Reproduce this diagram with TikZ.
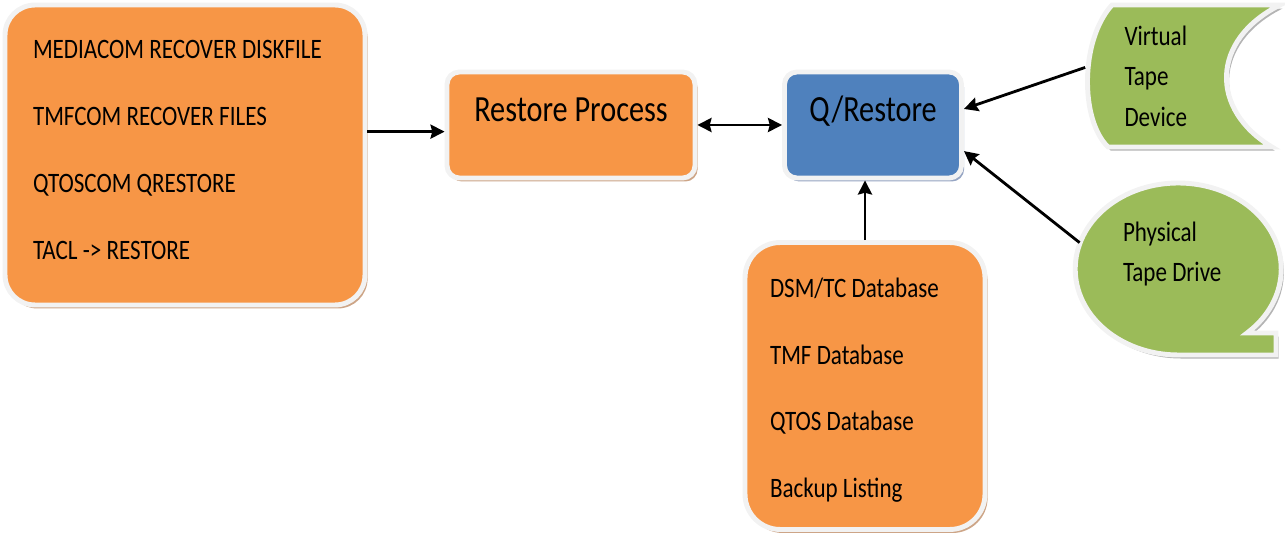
\documentclass[tikz,border=0pt]{standalone}
\usepackage{fontspec}
\setmainfont{Carlito}[FakeStretch=0.82]
\usepackage{tikz}
\usetikzlibrary{positioning, arrows.meta, shapes.geometric, shadows, calc}
\definecolor{cmdorange}{RGB}{247,150,70}
\definecolor{qblue}{RGB}{79,129,189}
\definecolor{tapegreen}{RGB}{155,187,89}
\definecolor{rimgray}{RGB}{242,242,242}
\definecolor{orangeshade}{RGB}{205,165,135}
\definecolor{blueshade}{RGB}{150,165,195}
\definecolor{greenshade}{RGB}{180,180,180}

\begin{document}
\begin{tikzpicture}[x=0.02cm, y=-0.02cm,
    box/.style={rectangle, draw=rimgray, line width=2.8pt},
    orangebox/.style={box, fill=cmdorange, drop shadow={opacity=1, fill=orangeshade, shadow xshift=1.5pt, shadow yshift=-2pt}},
    bluebox/.style={box, fill=qblue, drop shadow={opacity=1, fill=blueshade, shadow xshift=1.5pt, shadow yshift=-2pt}},
    greenshape/.style={fill=tapegreen, draw=rimgray, line width=2.8pt, drop shadow={opacity=1, fill=greenshade, shadow xshift=1.5pt, shadow yshift=-2pt}},
    listtext/.style={font=\fontsize{16}{38}\selectfont, align=flush left},
    bigtext/.style={font=\fontsize{21}{24}\selectfont, text height=13.5pt, text depth=17pt},
    arrow/.style={-{Stealth[length=8pt, width=8pt, inset=1pt]}, line width=1.6pt},
    twoway/.style={{Stealth[length=8pt, width=8pt, inset=1pt]}-{Stealth[length=8pt, width=8pt, inset=1pt]}, line width=1.6pt}
]
    \useasboundingbox (0,0) rectangle (1285,543);

    % === Commandes de restauration ===
    \node[orangebox, listtext, rounded corners=17pt, minimum width=7.2cm, minimum height=6cm,
          text width=6.08cm, inner xsep=0.56cm, text height=10.3pt, text depth=119.6pt] (cmds) at (185,155) {
        MEDIACOM RECOVER DISKFILE\\
        TMFCOM RECOVER FILES\\
        QTOSCOM QRESTORE\\
        TACL -> RESTORE
    };

    % === Restore Process ===
    \node[orangebox, bigtext, rounded corners=7pt, minimum width=4.96cm, minimum height=2.12cm] (restore) at (571,125) {Restore Process};

    % === Q/Restore ===
    \node[bluebox, bigtext, rounded corners=7pt, minimum width=3.54cm, minimum height=2.12cm] (qrestore) at (873,125) {Q/Restore};

    % === Bases de données ===
    \node[orangebox, listtext, rounded corners=20pt, minimum width=4.8cm, minimum height=5.74cm,
          text width=3.8cm, inner xsep=0.5cm, text height=16pt, text depth=117pt] (dbs) at (865,386) {
        DSM/TC Database\\
        TMF Database\\
        QTOS Database\\
        Backup Listing
    };

    % === Virtual Tape Device (stored data) ===
    \path[greenshape] (1112,5) -- (1280,5) .. controls (1210,40) and (1210,110) .. (1272,147)
        -- (1108,147) .. controls (1080,120) and (1080,40) .. (1112,5) -- cycle;
    \node[font=\fontsize{16}{23}\selectfont, align=flush left, text width=2.34cm, inner xsep=0.78cm,
          minimum height=2.84cm] (vtd) at (1183,76) {Virtual\\Tape\\Device};

    % === Physical Tape Drive (bulle) ===
    \path[greenshape] (1247,333) arc[start angle=48.1, end angle=-270, x radius=103, y radius=86]
        -- (1276,355) -- (1276,333) -- cycle;
    \node[ellipse, font=\fontsize{16}{23}\selectfont, align=flush left, text width=2.2cm,
          minimum width=4.12cm, minimum height=3.44cm,
          text height=11.5pt, text depth=43.3pt] (ptd) at (1178,269) {Physical\\Tape Drive};

    % === Flèches ===
    \draw[arrow] (restore.183 -| cmds.east) -- (restore.183);
    \draw[twoway] (restore.east) -- (qrestore.west);
    \draw[arrow] (dbs.north) -- (dbs.north |- qrestore.south);
    \draw[arrow] (vtd.175) -- (qrestore.10);
    \draw[arrow] (ptd.165) -- (qrestore.344);

\end{tikzpicture}
\end{document}
